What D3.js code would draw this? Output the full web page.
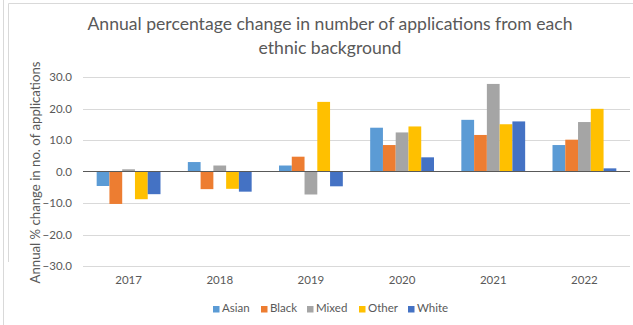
<!DOCTYPE html>
<html>
<head>
<meta charset="utf-8">
<script src="https://cdn.jsdelivr.net/npm/d3@7/dist/d3.min.js"></script>
<style>
  html, body { margin: 0; padding: 0; background: #fff; }
  svg { display: block; font-family: Lato, "Open Sans", sans-serif; }
</style>
</head>
<body>
<svg id="chart" width="633" height="325"></svg>
<script>
// Annual % change in applications, by ethnic background
const years = ["2017", "2018", "2019", "2020", "2021", "2022"];
const groups = ["Asian", "Black", "Mixed", "Other", "White"];
const asian = [-4.6, 3.0, 1.9, 13.9, 16.4, 8.4];
const black = [-10.3, -5.6, 4.7, 8.4, 11.6, 10.1];
const mixed = [0.7, 1.9, -7.3, 12.4, 27.8, 15.7];
const other = [-8.8, -5.5, 22.1, 14.3, 15.0, 19.9];
const white = [-7.2, -6.4, -4.7, 4.5, 15.9, 1.0];
const yTicks = [-30, -20, -10, 0, 10, 20, 30];
const colors = ["#5B9BD5", "#ED7D31", "#A5A5A5", "#FFC000", "#4472C4"];

const seriesValues = [asian, black, mixed, other, white];

const svg = d3.select("#chart");
const W = 633, H = 325;
const plot = { left: 83, right: 630, top: 77, bottom: 266 };

// outer chart frame
svg.append("line").attr("x1", 3.5).attr("x2", 3.5).attr("y1", 0).attr("y2", H)
  .attr("stroke", "#d9d9d9").attr("stroke-width", 1);
svg.append("line").attr("x1", 8.5).attr("x2", 8.5).attr("y1", 3.5).attr("y2", 262)
  .attr("stroke", "#d9d9d9").attr("stroke-width", 1);
svg.append("line").attr("x1", 8.5).attr("x2", W).attr("y1", 3.5).attr("y2", 3.5)
  .attr("stroke", "#d9d9d9").attr("stroke-width", 1);

const x0 = d3.scaleBand().domain(years).range([plot.left, plot.right]).paddingInner(0.3).paddingOuter(0.15);
const x1 = d3.scaleBand().domain(groups).range([0, x0.bandwidth()]);
const y = d3.scaleLinear().domain([-30, 30]).range([plot.bottom, plot.top]);

// gridlines
svg.append("g").selectAll("line").data(yTicks.filter(t => t !== 0)).join("line")
  .attr("x1", plot.left).attr("x2", plot.right)
  .attr("y1", d => Math.round(y(d)) + 0.5).attr("y2", d => Math.round(y(d)) + 0.5)
  .attr("stroke", "#d9d9d9").attr("stroke-width", 1);

// y tick labels
const yAxis = d3.axisLeft(y).tickValues(yTicks).tickFormat(d3.format(".1f")).tickSize(0).tickPadding(0);
const gy = svg.append("g").attr("transform", `translate(${plot.left - 11},0)`).call(yAxis);
gy.select(".domain").remove();
gy.selectAll("text").attr("fill", "#595959").style("font-size", "11.5px").style("font-family", "Lato, sans-serif");

// bars
const barData = [];
years.forEach((yr, i) => {
  groups.forEach((g, j) => {
    barData.push({ year: yr, group: g, value: seriesValues[j][i], color: colors[j] });
  });
});
svg.append("g").selectAll("rect").data(barData).join("rect")
  .attr("x", d => x0(d.year) + x1(d.group))
  .attr("width", x1.bandwidth())
  .attr("y", d => y(Math.max(0, d.value)))
  .attr("height", d => Math.abs(y(d.value) - y(0)))
  .attr("fill", d => d.color);

// zero baseline
svg.append("line").attr("x1", plot.left).attr("x2", plot.right)
  .attr("y1", y(0)).attr("y2", y(0))
  .attr("stroke", "#595959").attr("stroke-width", 1.2);

// x category labels
const xAxis = d3.axisBottom(x0).tickSize(0).tickPadding(0);
const gx = svg.append("g").attr("transform", `translate(0,${plot.bottom + 10})`).call(xAxis);
gx.select(".domain").remove();
gx.selectAll("text").attr("fill", "#595959").style("font-size", "11.5px").style("font-family", "Lato, sans-serif");

// y axis title
svg.append("text")
  .attr("transform", `translate(37,${(plot.top + plot.bottom) / 2 + 1}) rotate(-90)`)
  .attr("text-anchor", "middle")
  .attr("dominant-baseline", "middle")
  .attr("fill", "#595959").style("font-size", "13.2px")
  .text("Annual % change in no. of applications");

// title
const title = svg.append("text").attr("text-anchor", "middle").attr("fill", "#595959").style("font-size", "17.6px");
title.append("tspan").attr("x", 330).attr("y", 30).text("Annual percentage change in number of applications from each");
title.append("tspan").attr("x", 330).attr("y", 54).text("ethnic background");

// legend
const legendX = [213, 261, 307, 359, 408];
const lg = svg.append("g").selectAll("g").data(groups).join("g")
  .attr("transform", (d, i) => `translate(${legendX[i]},309)`);
lg.append("rect").attr("x", 0).attr("y", -3).attr("width", 6.5).attr("height", 6.5)
  .attr("fill", (d, i) => colors[i]);
lg.append("text").attr("x", 9).attr("y", 0).attr("dominant-baseline", "middle")
  .attr("fill", "#595959").style("font-size", "11.5px").text(d => d);
</script>
</body>
</html>
